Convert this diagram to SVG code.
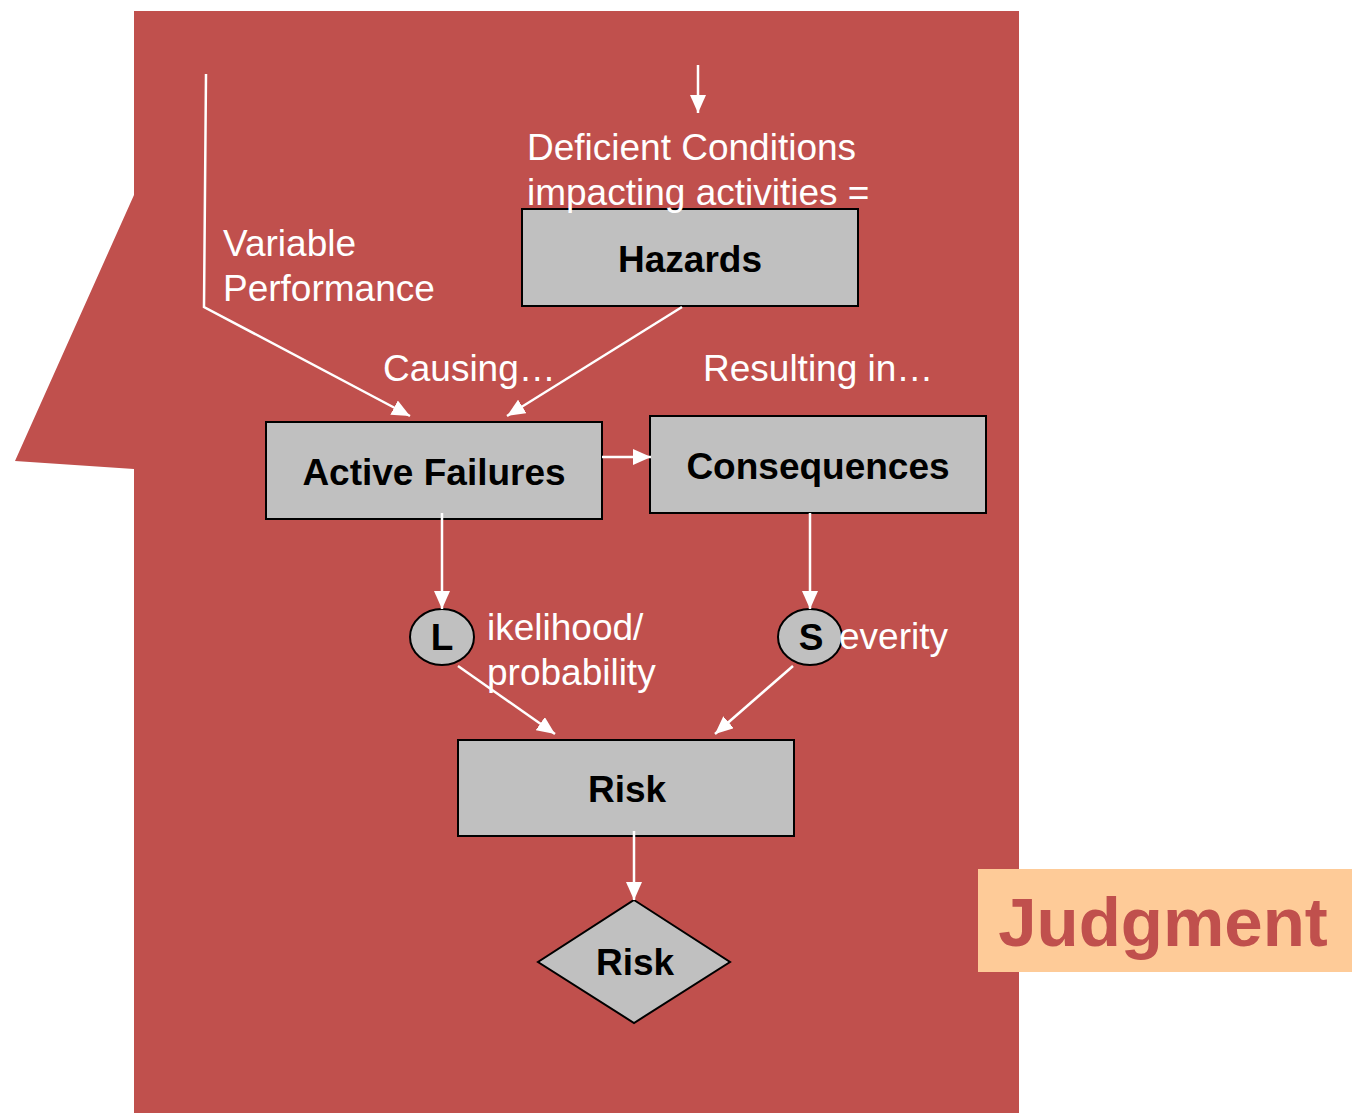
<svg xmlns="http://www.w3.org/2000/svg" width="1355" height="1118" viewBox="0 0 1355 1118">
  <style>
    .box { fill: #C0C0C0; stroke: #000; stroke-width: 2; }
    .lbl { font-family: "Liberation Sans", Arial, sans-serif; font-weight: bold; font-size: 37px; fill: #000; text-anchor: middle; }
    .note { font-family: "Liberation Sans", Arial, sans-serif; font-size: 37px; fill: #FFFFFF; }
    .conn { fill: none; stroke: #FFFFFF; stroke-width: 2.5; marker-end: url(#arrow); }
  </style>
  <defs>
    <marker id="arrow" markerUnits="userSpaceOnUse" markerWidth="18" markerHeight="16" viewBox="0 0 18 16" refX="18" refY="8" orient="auto">
      <path d="M0,0 L18,8 L0,16 Z" fill="#FFFFFF"/>
    </marker>
  </defs>

  <!-- backdrop panel -->
  <polygon points="134,11 1019,11 1019,1113 134,1113 134,469 15,461 134,195" fill="#C0504D"/>

  <!-- Judgment tag -->
  <g id="judgment">
    <rect x="978" y="869" width="374" height="103" fill="#FECB98"/>
    <text x="1163" y="946" font-family="Liberation Sans, Arial, sans-serif" font-weight="bold" font-size="69" fill="#C0504D" text-anchor="middle">Judgment</text>
  </g>

  <!-- nodes -->
  <g id="hazards">
    <rect class="box" x="522" y="209" width="336" height="97"/>
    <text class="lbl" x="690" y="272">Hazards</text>
  </g>
  <g id="active-failures">
    <rect class="box" x="266" y="422" width="336" height="97"/>
    <text class="lbl" x="434" y="485">Active Failures</text>
  </g>
  <g id="consequences">
    <rect class="box" x="650" y="416" width="336" height="97"/>
    <text class="lbl" x="818" y="479">Consequences</text>
  </g>
  <g id="likelihood">
    <ellipse class="box" cx="442" cy="637" rx="32" ry="28"/>
    <text class="lbl" x="442" y="650">L</text>
  </g>
  <g id="severity">
    <ellipse class="box" cx="810" cy="637" rx="32" ry="28"/>
    <text class="lbl" x="811" y="650">S</text>
  </g>
  <g id="risk">
    <rect class="box" x="458" y="740" width="336" height="96"/>
    <text class="lbl" x="627" y="802">Risk</text>
  </g>
  <g id="risk-decision">
    <polygon class="box" points="634,900 730,962 634,1023 538,962"/>
    <text class="lbl" x="635" y="975">Risk</text>
  </g>

  <!-- connectors -->
  <g id="connectors">
    <polyline class="conn" points="206,74 204,307 410,416"/>
    <line class="conn" x1="698" y1="65" x2="698" y2="113"/>
    <line class="conn" x1="682" y1="307" x2="507" y2="416"/>
    <line class="conn" x1="602" y1="457" x2="651" y2="457"/>
    <line class="conn" x1="442" y1="513" x2="442" y2="609"/>
    <line class="conn" x1="810" y1="513" x2="810" y2="609"/>
    <line class="conn" x1="458" y1="666" x2="555" y2="734"/>
    <line class="conn" x1="793" y1="666" x2="715" y2="734"/>
    <line class="conn" x1="634" y1="831" x2="634" y2="900"/>
  </g>

  <!-- annotations -->
  <g id="annotations">
    <text class="note" x="527" y="160">Deficient Conditions</text>
    <text class="note" x="527" y="205">impacting activities =</text>
    <text class="note" x="223" y="256">Variable</text>
    <text class="note" x="223" y="301">Performance</text>
    <text class="note" x="383" y="381">Causing…</text>
    <text class="note" x="703" y="381">Resulting in…</text>
    <text class="note" x="487" y="640">ikelihood/</text>
    <text class="note" x="487" y="685">probability</text>
    <text class="note" x="839" y="649">everity</text>
  </g>
</svg>
